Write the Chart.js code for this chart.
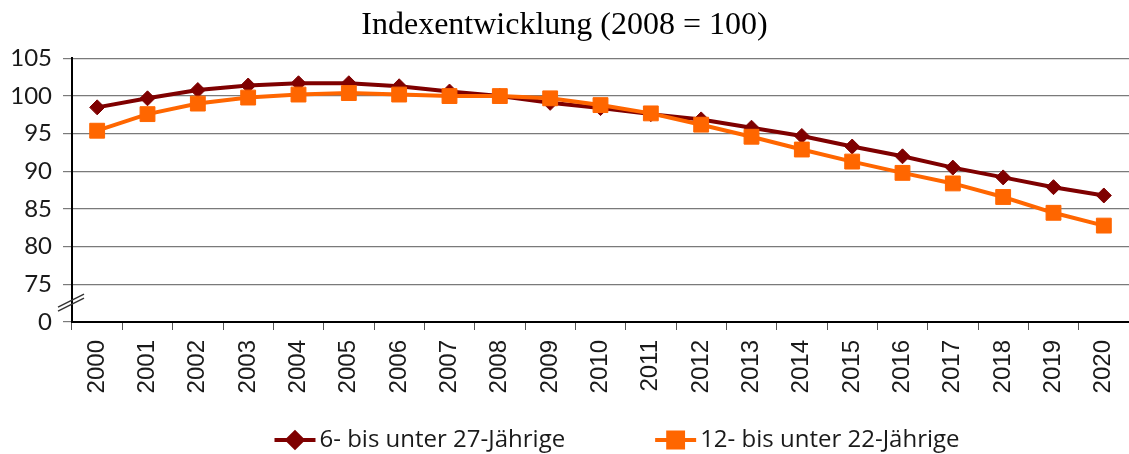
<!DOCTYPE html>
<html>
<head>
<meta charset="utf-8">
<script src="https://cdn.jsdelivr.net/npm/chart.js@4.4.1/dist/chart.umd.min.js"></script>
<style>
    html, body { margin: 0; padding: 0; background: #fff; }
    #wrap { width: 1129px; height: 454px; }
</style>
</head>
<body>
<div id="wrap"><canvas id="indexChart" width="1129" height="454"></canvas></div>
<script>
// Data
const years = ['2000', '2001', '2002', '2003', '2004', '2005', '2006', '2007', '2008', '2009', '2010',
    '2011', '2012', '2013', '2014', '2015', '2016', '2017', '2018', '2019', '2020'];
const age6to27 = [98.5, 99.7, 100.8, 101.4, 101.7, 101.7, 101.3, 100.6, 100, 99.1, 98.4,
    97.6, 96.9, 95.8, 94.7, 93.3, 92.0, 90.5, 89.2, 87.9, 86.8];
const age12to22 = [95.4, 97.6, 99.0, 99.8, 100.2, 100.4, 100.2, 100.0, 100, 99.7, 98.8,
    97.7, 96.2, 94.6, 92.9, 91.3, 89.8, 88.4, 86.6, 84.5, 82.8];
const seriesLabels = ['6- bis unter 27-Jährige', '12- bis unter 22-Jährige'];
const yTicks = [70, 75, 80, 85, 90, 95, 100, 105];   // 70 is shown as "0" (axis break)

const darkRed = '#7f0000';
const orange = '#ff6600';

// Draws the "//" break marks across the y axis between 0 and 75
const axisBreak = {
    id: 'axisBreak',
    afterDraw(chart) {
        const ctx = chart.ctx;
        const x = chart.chartArea.left;
        const yMid = chart.scales.y.getPixelForValue(72.5);
        ctx.save();
        ctx.strokeStyle = '#333';
        ctx.lineWidth = 1.3;
        [-2.5, 1.5].forEach(function(off) {
            ctx.beginPath();
            ctx.moveTo(x - 14, yMid + off + 6.5);
            ctx.lineTo(x + 12, yMid + off - 6.5);
            ctx.stroke();
        });
        ctx.restore();
    }
};

// Legend with line + marker symbols, like the office chart
const lineLegend = {
    id: 'lineLegend',
    afterDraw(chart) {
        const ctx = chart.ctx;
        const y = 440;
        const lineLen = 41;
        const textGap = 4;
        const itemGap = 90;
        ctx.save();
        ctx.font = '24px "Open Sans"';
        ctx.textBaseline = 'middle';
        const items = chart.data.datasets.map(function(ds) {
            return { ds: ds, w: ctx.measureText(ds.label).width };
        });
        let total = 0;
        items.forEach(function(it, i) {
            total += lineLen + textGap + it.w + (i > 0 ? itemGap : 0);
        });
        let x = 617 - total / 2;
        items.forEach(function(it) {
            ctx.strokeStyle = it.ds.borderColor;
            ctx.lineWidth = 4;
            ctx.beginPath();
            ctx.moveTo(x, y);
            ctx.lineTo(x + lineLen, y);
            ctx.stroke();
            Chart.helpers.drawPoint(ctx, {
                pointStyle: it.ds.pointStyle,
                radius: it.ds.pointRadius,
                borderWidth: 1
            }, x + lineLen / 2, y);
            ctx.fillStyle = it.ds.borderColor;
            ctx.strokeStyle = it.ds.borderColor;
            ctx.fill();
            ctx.fillStyle = '#1a1a1a';
            ctx.fillText(it.ds.label, x + lineLen + textGap, y);
            x += lineLen + textGap + it.w + itemGap;
        });
        ctx.restore();
    }
};

const ctx = document.getElementById('indexChart').getContext('2d');
new Chart(ctx, {
    type: 'line',
    data: {
        labels: years,
        datasets: [{
            label: seriesLabels[0],
            data: age6to27,
            borderColor: darkRed,
            backgroundColor: darkRed,
            borderWidth: 4,
            pointStyle: 'rectRot',
            pointRadius: 7.5,
            pointBorderWidth: 1,
            pointBackgroundColor: darkRed,
            tension: 0,
            order: 1
        }, {
            label: seriesLabels[1],
            data: age12to22,
            borderColor: orange,
            backgroundColor: orange,
            borderWidth: 4,
            pointStyle: 'rect',
            pointRadius: 10.5,
            pointBorderWidth: 1,
            pointBackgroundColor: orange,
            tension: 0,
            order: 0
        }]
    },
    options: {
        responsive: false,
        animation: false,
        layout: {
            autoPadding: false,
            padding: { left: 0, right: 0, top: 0, bottom: 52 }
        },
        plugins: {
            legend: { display: false },
            tooltip: { enabled: false },
            title: {
                display: true,
                text: 'Indexentwicklung (2008 = 100)',
                color: '#000',
                font: { family: '"Liberation Serif"', size: 32, weight: 'normal' },
                padding: { top: 6, bottom: 14 }
            }
        },
        scales: {
            x: {
                offset: true,
                grid: {
                    offset: true,
                    drawOnChartArea: false,
                    drawTicks: true,
                    tickLength: 8,
                    color: '#555'
                },
                border: { color: '#000', width: 2 },
                ticks: {
                    autoSkip: false,
                    minRotation: 90,
                    maxRotation: 90,
                    padding: 10,
                    color: '#1a1a1a',
                    font: { family: '"Liberation Sans"', size: 24 }
                },
                afterFit: function(scale) {
                    scale.height = 80;
                    scale.paddingLeft = 0;
                    scale.paddingRight = 0;
                }
            },
            y: {
                min: 70,
                max: 105,
                afterBuildTicks: function(scale) {
                    scale.ticks = yTicks.map(function(v) { return { value: v }; });
                },
                grid: {
                    color: '#7a7a7a',
                    lineWidth: 1.2,
                    tickLength: 9
                },
                border: { color: '#000', width: 2 },
                ticks: {
                    padding: 11,
                    color: '#1a1a1a',
                    font: { family: 'Lato', size: 24 },
                    callback: function(value) { return value === 70 ? '0' : value; }
                },
                afterFit: function(scale) { scale.width = 72; }
            }
        }
    },
    plugins: [axisBreak, lineLegend]
});
</script>
</body>
</html>
